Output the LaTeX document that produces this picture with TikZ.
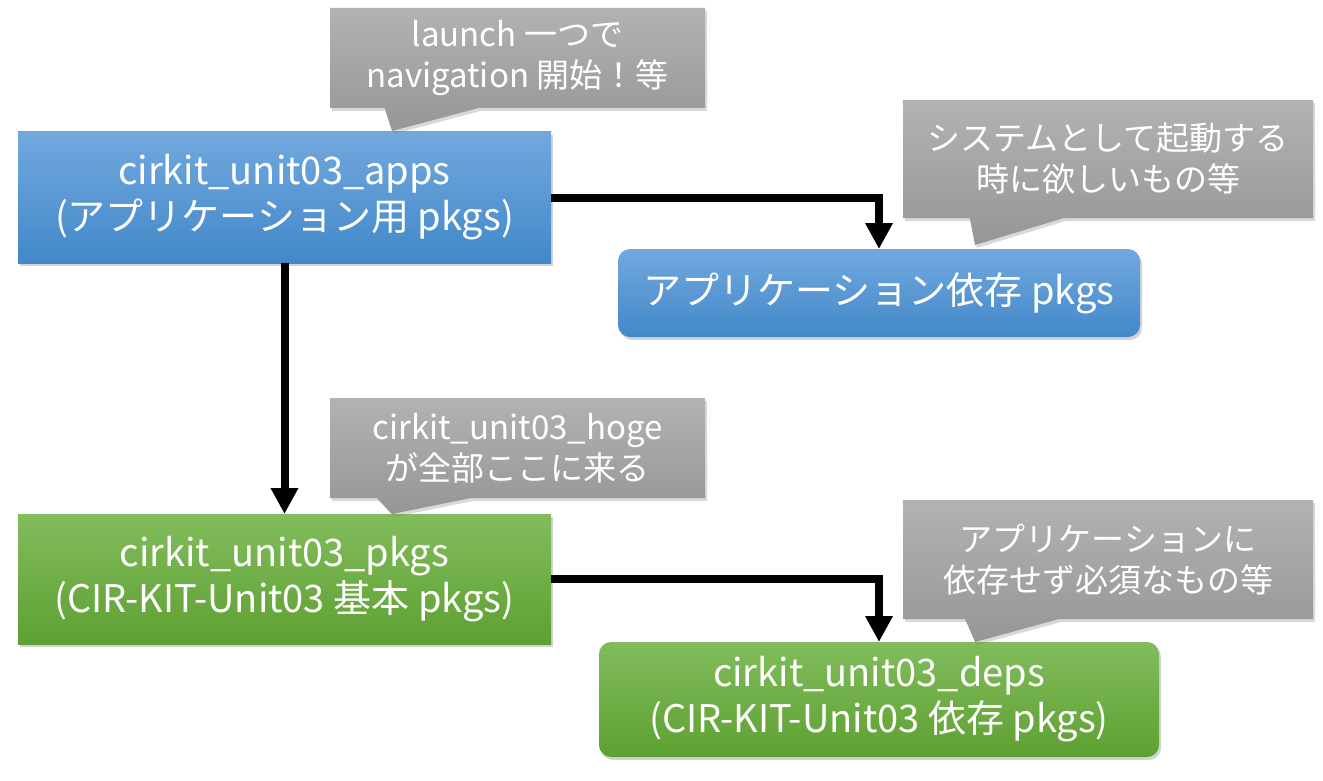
\documentclass[tikz,border=0pt]{standalone}
\usepackage{fontspec}
\setmainfont{Noto Sans CJK JP}
\usetikzlibrary{arrows.meta,shapes.callouts,shadows}
\definecolor{bluetop}{RGB}{114,168,222}
\definecolor{bluebot}{RGB}{66,136,201}
\definecolor{greentop}{RGB}{130,188,92}
\definecolor{greenbot}{RGB}{94,160,50}
\definecolor{graytop}{RGB}{178,178,178}
\definecolor{graybot}{RGB}{150,150,150}
\begin{document}
\begin{tikzpicture}[x=1pt,y=-1pt,line join=round,
	box/.style={rectangle,inner sep=0pt,outer sep=0pt,text=white,align=center,font=\fontsize{38}{46}\selectfont,drop shadow={opacity=0.35,shadow xshift=2pt,shadow yshift=-3pt}},
	bluebox/.style={box,top color=bluetop,bottom color=bluebot},
	greenbox/.style={box,top color=greentop,bottom color=greenbot},
	note/.style={rectangle callout,callout pointer width=94pt,inner sep=0pt,outer sep=0pt,text=white,align=center,font=\fontsize{33}{41}\selectfont,top color=graytop,bottom color=graybot,drop shadow={opacity=0.3,shadow xshift=2pt,shadow yshift=-3pt}},
	conn/.style={line width=8pt,line join=miter,-{Triangle[width=26pt,length=26pt]}}]
	\useasboundingbox (0,0) rectangle (1323,781);
	% packages
	\node[bluebox,minimum width=533,minimum height=131] (apps) at (284.5,197.5) {cirkit\_unit03\_apps\\(アプリケーション用 pkgs)};
	\node[bluebox,rounded corners=12pt,minimum width=522,minimum height=88] (appdeps) at (879,293) {アプリケーション依存 pkgs};
	\node[greenbox,minimum width=533,minimum height=130] (pkgs) at (284.5,579) {cirkit\_unit03\_pkgs\\(CIR-KIT-Unit03 基本 pkgs)};
	\node[greenbox,rounded corners=12pt,minimum width=560,minimum height=115] (deps) at (879,699.5) {cirkit\_unit03\_deps\\(CIR-KIT-Unit03 依存 pkgs)};
	% notes
	\node[note,minimum width=375,minimum height=100,callout absolute pointer={(392,131)}] (n1) at (517.5,58) {launch 一つで\\navigation 開始！等};
	\node[note,minimum width=410,minimum height=118,callout absolute pointer={(975,245)}] (n2) at (1108,159) {システムとして起動する\\時に欲しいもの等};
	\node[note,minimum width=375,minimum height=100,callout absolute pointer={(392,514)}] (n3) at (517.5,448) {cirkit\_unit03\_hoge\\が全部ここに来る};
	\node[note,minimum width=410,minimum height=119,callout absolute pointer={(975,642)}] (n4) at (1108,559.5) {アプリケーションに\\依存せず必須なもの等};
	% arrows
	\draw[conn] (apps.east) -| (appdeps.north);
	\draw[conn] (apps.south) -- (pkgs.north);
	\draw[conn] (pkgs.east) -| (deps.north);
\end{tikzpicture}
\end{document}
